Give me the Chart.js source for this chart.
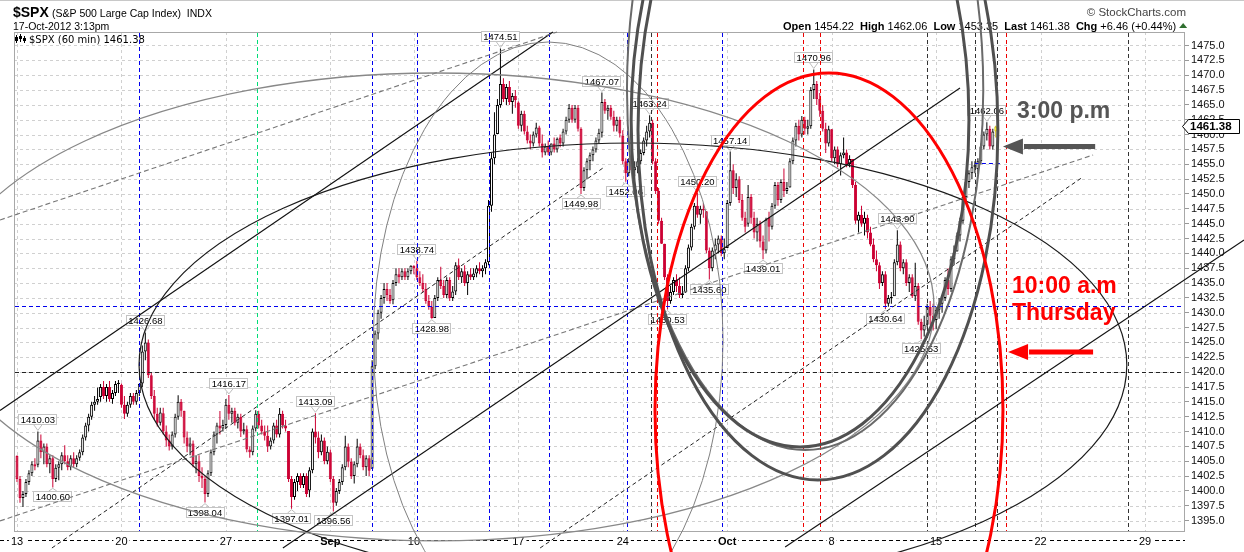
<!DOCTYPE html>
<html><head><meta charset="utf-8">
<script src="https://cdn.jsdelivr.net/npm/chart.js@4.4.0/dist/chart.umd.min.js"></script>
<style>html,body{margin:0;padding:0;background:#fff;}canvas{display:block;}</style>
</head><body>
<canvas id="c" width="1244" height="552"></canvas>
<script>
// ---------------- DATA ----------------
// 60-minute bars, 7 per trading day, Aug 13 2012 .. Oct 17 2012 (bar index 0..328)
const xTickIdx    = [0, 35, 70, 105, 133, 168, 203, 238, 273, 308, 343, 378];
const xTickLabels = ['13','20','27','Sep','10','17','24','Oct','8','15','22','29'];
const yTicks = [1395.0,1397.5,1400.0,1402.5,1405.0,1407.5,1410.0,1412.5,1415.0,1417.5,1420.0,1422.5,1425.0,1427.5,1430.0,1432.5,1435.0,1437.5,1440.0,1442.5,1445.0,1447.5,1450.0,1452.5,1455.0,1457.5,1460.0,1462.5,1465.0,1467.5,1470.0,1472.5,1475.0];

const opens = [
1405.9,1402,1398.8,1399.5,1401.5,1403,1404.5,
1404.4,1408.5,1406.5,1407.5,1404.5,1405.5,1402,
1403.9,1404.5,1406,1405,1404,1405.5,1404.5,
1405.6,1406.5,1409,1411,1412.5,1414.5,1415,
1415.8,1417.5,1416,1417.5,1415.5,1416.5,1418,
1417.9,1414.5,1413,1414.5,1416,1415,1416.5,
1418.1,1423.5,1425,1419.5,1416,1413,1411.5,
1413.1,1410,1408.5,1407.5,1409.5,1412.5,1415,
1413.5,1409,1407.5,1408,1404.5,1405,1402.5,
1402,1399.5,1403,1406.5,1409.5,1411,1410.5,
1411.1,1414.5,1413,1413.5,1411.5,1412.5,1410,
1410.4,1407,1406.5,1410.5,1413,1411,1410,
1409.3,1407.5,1408.5,1411,1409.5,1413,1411,
1410.1,1402,1399,1401.5,1402.5,1401,1402.5,
1400.07,1403.5,1410,1409,1406.5,1408.5,1405,
1406.5,1402,1398,1400,1401.5,1404,1407.5,
1404.9,1402.5,1404.5,1407.5,1406,1404,1405.5,
1403.74,1421,1426.5,1430,1432.5,1434,1433,
1432.1,1435,1436.5,1436,1437,1436,1437,
1437.9,1437.5,1436,1435,1434,1432,1431,
1429.1,1432.5,1435.5,1434.5,1433,1435.5,1432.5,
1433.6,1438,1436,1437,1435,1436.5,1436,
1436.6,1437.5,1437,1437.5,1438.5,1448,1456,
1460.1,1465,1468.5,1466,1468,1465.5,1466.5,
1465.4,1461.5,1463.5,1460.5,1459,1458.5,1460,
1461.2,1458.5,1457,1458,1457,1458.5,1457.5,
1459.5,1458.5,1460.5,1462.5,1464.5,1462.5,1464.5,
1461,1451,1454,1455.5,1456.5,1457.5,1459,
1460.3,1465.5,1464,1464.5,1463,1461.5,1462.5,
1459.8,1455.5,1453.5,1455.5,1454,1454.5,1455.5,
1456.9,1459,1460.5,1462,1455.5,1450.5,1445.5,
1441.6,1436,1432,1433.5,1435.5,1434.5,1433,
1433.4,1437.5,1441,1444.5,1448,1446.5,1447.5,
1447.1,1440.5,1437.5,1440.5,1441.5,1442.5,1440,
1440.9,1448.5,1454,1451,1452.5,1449,1446,
1445,1449.5,1446,1443.5,1445,1442,1440.5,
1446,1444.5,1448,1451.5,1449,1452,1450.5,
1451.1,1455.5,1459,1461.5,1460,1462.5,1461,
1461.4,1467.5,1468.5,1466,1464,1461,1458.5,
1460.9,1456,1457.5,1455,1456.5,1457,1455,
1455.9,1451.5,1445.5,1446.5,1445,1446,1443.5,
1441.5,1439,1438,1435,1436.5,1431.5,1432.5,
1432.8,1438.5,1441.5,1437.5,1438.5,1435,1436,
1432.8,1434.5,1428.5,1427,1428,1431,1429.5,
1428.8,1430.5,1431.5,1432.5,1435.5,1434,1439,
1440.3,1443,1445.5,1449.5,1452,1453.5,1454.5,
1454.2,1455.5,1458,1460,1461,1458,1460.5
];
const highs = [
1406,1402.5,1400,1402,1403.5,1405,1405.5,
1410.03,1409.5,1408,1408,1406,1406,1404.5,
1405,1406.5,1407.7,1406,1406,1406.5,1406,
1407,1409.5,1411.5,1413,1415,1416,1417.4,
1418,1418.5,1418,1418.5,1417,1418.5,1418.7,
1418.1,1416,1415,1416.5,1416.5,1417,1418.1,
1424.5,1426.68,1425.5,1420,1417,1414,1414,
1414,1411,1409.5,1410,1413,1416.1,1415.5,
1413.5,1410,1409,1408.5,1406,1406,1404,
1402.5,1403.5,1407,1410,1411.5,1413.46,1412,
1415.5,1416.17,1414,1414,1413,1413,1411.5,
1411,1407.5,1411,1413.6,1413.5,1412,1411,
1411,1409,1411.5,1412,1413.95,1413.5,1412,
1410.1,1402.5,1402,1403,1403,1403,1403,
1404,1410.5,1413.09,1410,1409.5,1409,1407.5,
1407,1402.5,1400.5,1402,1404.5,1409.31,1408,
1405.5,1405,1408.81,1408,1407,1406,1406,
1422,1427,1430.5,1433,1435,1435,1434,
1435.5,1437.5,1437.5,1437.5,1437.5,1437.5,1438,
1438,1438.74,1437,1436.5,1435,1433,1432,
1433,1436,1437.76,1435.5,1436,1436,1434.5,
1438.5,1439.15,1437.5,1438,1437,1437.5,1437.5,
1438,1438.5,1438,1439,1449,1457,1463.76,
1466,1474.51,1469.5,1468.5,1469,1467,1467.5,
1465.63,1464,1464,1461.5,1460,1460.5,1462,
1461.47,1460,1458.5,1459,1458.5,1459.5,1459.5,
1460,1461,1463,1465.15,1465,1465,1465,
1461.23,1454.5,1456,1457,1458,1459.5,1461,
1467.07,1466,1465,1465,1464,1463,1463,
1460.72,1456,1456,1456.5,1455.5,1456,1457.5,
1459.5,1461.5,1463.24,1462.5,1456,1451,1446,
1441.6,1436.5,1434.5,1436,1436.5,1436,1434.5,
1438,1441.5,1445,1448.5,1450.2,1448,1448.5,
1447.13,1441,1441,1442.5,1443,1443,1442.5,
1449,1457.14,1455,1453.5,1453,1450,1447,
1451.52,1450,1447,1446,1445.5,1443,1446,
1447,1448.5,1452,1452,1452.5,1454.3,1452,
1456,1459.5,1462,1462.5,1463.14,1463,1462.5,
1468,1470.96,1469,1467,1465,1462,1461.5,
1460.93,1458,1458,1457,1459.5,1457.5,1456.5,
1455.9,1452,1447,1448,1447,1446.5,1444.5,
1442.52,1440.5,1438.5,1437,1437,1433,1433.5,
1439,1443.9,1442,1439,1439,1436.5,1436.5,
1438.43,1435,1429,1429.5,1431.5,1432,1431.5,
1431,1432.5,1433,1436,1437.5,1439.5,1441.31,
1443.5,1446,1450,1452.5,1454,1455.51,1455.5,
1456,1458.5,1460.5,1462.06,1461.5,1461,1461.5
];
const lows = [
1401.5,1398,1397.3,1399,1401,1402.5,1403.5,
1404,1405.5,1404.5,1404,1403,1400.6,1401.5,
1401.8,1403.5,1404.5,1403.5,1403.5,1404,1404,
1405.1,1406,1408.5,1410,1412,1413.5,1414.5,
1415,1415.5,1415,1415,1414.7,1416,1416.5,
1414,1412.1,1412.5,1414,1414.5,1414.5,1416,
1417.5,1422,1419,1415.5,1412,1410.86,1411,
1409.5,1407.5,1406.8,1407,1409,1412,1412.5,
1408,1406.5,1406,1404,1403,1401.5,1400.5,
1398.04,1399,1402.5,1406,1408,1409.5,1410,
1410.5,1412,1411.5,1411,1410.5,1409.1,1409.5,
1406.5,1405.6,1406,1410,1410.5,1409.5,1408.5,
1406.57,1407,1408,1409,1409,1410.5,1410,
1401.5,1397.01,1398.5,1400,1400.5,1400.5,1399,
1398.96,1403,1408,1405.5,1406,1404.5,1404.5,
1401.5,1396.56,1397.5,1399.5,1401,1403.5,1404,
1402,1401.25,1404,1405.5,1403.5,1402.5,1402.5,
1403.74,1420.5,1425.5,1429,1431.5,1432,1431.5,
1431.45,1434.5,1435,1435.5,1435.5,1435.5,1436.5,
1436.5,1435.5,1434.5,1433.5,1431.5,1430.5,1428.98,
1429.1,1432,1434,1432.5,1432.5,1432,1432,
1433,1435.5,1435,1434.5,1433,1435.5,1435.5,
1435.97,1436.5,1436,1436.5,1438,1447,1455,
1460.07,1464.5,1465.5,1465,1465,1463.5,1464.5,
1461,1460.5,1460,1458.5,1457.55,1458,1459.5,
1458,1456.13,1456.5,1456.5,1456.5,1457,1457,
1457.88,1458,1460,1462,1462,1462,1460.5,
1449.98,1450.5,1452.5,1454,1455.5,1457,1458.5,
1459.51,1463.5,1462.5,1462.5,1460.5,1460.5,1459.5,
1455,1452.06,1453,1453.5,1453,1453.5,1455,
1456.5,1458,1459.5,1455,1450,1445,1441.59,
1435.5,1430.53,1431.5,1433,1433.5,1432.5,1432.5,
1433.36,1437,1440.5,1444,1446,1445,1446,
1440,1435.6,1437,1439,1440,1439.5,1439,
1440.9,1448,1450,1449.5,1448.5,1445.5,1443.5,
1444.5,1445,1442.5,1442,1441,1439.01,1440,
1441.99,1444,1447.5,1448,1448.5,1449.5,1450,
1451.08,1455,1458,1459,1459.5,1460,1460,
1461,1466,1465,1463,1460.5,1456.89,1458,
1455.5,1455,1454.5,1453.1,1456,1454.5,1454.5,
1451,1445,1443.5,1444.5,1443,1442.5,1441.18,
1438.5,1437,1434,1434.5,1430.64,1431,1431.5,
1432.82,1438,1437,1436.5,1434.5,1433.5,1432.5,
1432,1428,1425.53,1426,1427.5,1428,1427,
1427.24,1429,1430,1432,1433,1433.5,1438,
1440.31,1442,1445,1449,1451,1452.5,1453.5,
1453.35,1455,1457.5,1459,1457.5,1457.5,1459.5
];
const closes = [
1402,1398.8,1399.5,1401.5,1403,1404.5,1404.1,
1408.5,1406.5,1407.5,1404.5,1405.5,1402,1403.9,
1404.5,1406,1405,1404,1405.5,1404.5,1405.5,
1406.5,1409,1411,1412.5,1414.5,1415,1415.5,
1417.5,1416,1417.5,1415.5,1416.5,1418,1418.2,
1414.5,1413,1414.5,1416,1415,1416.5,1418,
1423.5,1425,1419.5,1416,1413,1411.5,1413.2,
1410,1408.5,1407.5,1409.5,1412.5,1415,1413.5,
1409,1407.5,1408,1404.5,1405,1402.5,1402.1,
1399.5,1403,1406.5,1409.5,1411,1410.5,1411.1,
1414.5,1413,1413.5,1411.5,1412.5,1410,1410.4,
1407,1406.5,1410.5,1413,1411,1410,1409.3,
1407.5,1408.5,1411,1409.5,1413,1411,1410.5,
1402,1399,1401.5,1402.5,1401,1402.5,1399.5,
1403.5,1410,1409,1406.5,1408.5,1405,1406.6,
1402,1398,1400,1401.5,1404,1407.5,1404.9,
1402.5,1404.5,1407.5,1406,1404,1405.5,1403.4,
1421,1426.5,1430,1432.5,1434,1433,1432,
1435,1436.5,1436,1437,1436,1437,1437.9,
1437.5,1436,1435,1434,1432,1431,1429.1,
1432.5,1435.5,1434.5,1433,1435.5,1432.5,1433.6,
1438,1436,1437,1435,1436.5,1436,1436.6,
1437.5,1437,1437.5,1438.5,1448,1456,1460,
1465,1468.5,1466,1468,1465.5,1466.5,1465.8,
1461.5,1463.5,1460.5,1459,1458.5,1460,1461.2,
1458.5,1457,1458,1457,1458.5,1457.5,1459.3,
1458.5,1460.5,1462.5,1464.5,1462.5,1464.5,1461,
1451,1454,1455.5,1456.5,1457.5,1459,1460.3,
1465.5,1464,1464.5,1463,1461.5,1462.5,1460.2,
1455.5,1453.5,1455.5,1454,1454.5,1455.5,1456.9,
1459,1460.5,1462,1455.5,1450.5,1445.5,1441.6,
1436,1432,1433.5,1435.5,1434.5,1433,1433.3,
1437.5,1441,1444.5,1448,1446.5,1447.5,1447.2,
1440.5,1437.5,1440.5,1441.5,1442.5,1440,1440.7,
1448.5,1454,1451,1452.5,1449,1446,1444.5,
1449.5,1446,1443.5,1445,1442,1440.5,1445.7,
1444.5,1448,1451.5,1449,1452,1450.5,1451,
1455.5,1459,1461.5,1460,1462.5,1461,1461.4,
1467.5,1468.5,1466,1464,1461,1458.5,1460.9,
1456,1457.5,1455,1456.5,1457,1455,1455.9,
1451.5,1445.5,1446.5,1445,1446,1443.5,1441.5,
1439,1438,1435,1436.5,1431.5,1432.5,1432.6,
1438.5,1441.5,1437.5,1438.5,1435,1436,1432.8,
1434.5,1428.5,1427,1428,1431,1429.5,1428.6,
1430.5,1431.5,1432.5,1435.5,1434,1439,1440.1,
1443,1445.5,1449.5,1452,1453.5,1454.5,1454.9,
1455.5,1458,1460,1461,1458,1460.5,1461.38
];
// swing-point price annotations: bar index and whether it marks the high (H) or low (L)
const labelIdx  = [7,12,43,71,63,100,92,106,134,139,162,196,189,204,212,218,228,239,232,250,267,295,291,303,325];
const labelSide = ['H','L','H','H','L','H','L','L','H','L','H','H','L','L','H','L','H','H','L','L','H','H','L','L','H'];

// ---------------- DRAWN ANNOTATIONS (data coordinates: bar index, price) ----------------
const vLines = [
  {i:40.9,c:'#0000ee'},{i:119,c:'#0000ee'},{i:134,c:'#0000ee'},{i:158.2,c:'#0000ee'},{i:178.3,c:'#0000ee'},{i:204.4,c:'#0000ee'},{i:236.3,c:'#0000ee'},
  {i:80.4,c:'#00dd77'},
  {i:212.5,c:'#333'},{i:305,c:'#333'},{i:321,c:'#333'},{i:328.4,c:'#333'},{i:372.3,c:'#333'},
  {i:214.5,c:'#ee0000'},{i:263.4,c:'#ee0000'},{i:269.1,c:'#ee0000'},{i:331.4,c:'#ee0000'}
];
const hLines = [
  {p:1431.15,c:'#0000ee',i0:null,i1:null},
  {p:1420.0,c:'#222',i0:null,i1:null},
  {p:1455.2,c:'#0000ee',i0:321,i1:330}
];
const ellipses = [
  {ci:206.4,cp:1421.21,ri:165.5,rp:37.37,c:'#1a1a1a',w:1.2},
  {ci:140.4,cp:1430.98,ri:166.9,rp:39.39,c:'#888',w:1.3},
  {ci:178.0,cp:1425.42,ri:58.6,rp:50.17,c:'#808080',w:1},
  {ci:264.1,cp:1467.51,ri:59.7,rp:60.61,c:'#6a6a6a',w:2},
  {ci:262.4,cp:1462.46,ri:56.6,rp:55.05,c:'#505050',w:3},
  {ci:268.4,cp:1460.77,ri:60.3,rp:58.92,c:'#505050',w:3},
  {ci:272.1,cp:1413.64,ri:58.3,rp:56.73,c:'#ff0000',w:3}
];
const trendLines = [
  {a:[-5.7,1413.55],b:[179.6,1477.27],c:'#111',w:1.1,d:[]},
  {a:[-5.7,1445.62],b:[181.0,1477.27],c:'#777',w:1.1,d:[5,3]},
  {a:[11.7,1390.40],b:[197.1,1454.63],c:'#222',w:1,d:[4,3]},
  {a:[-5.7,1394.95],b:[360.6,1456.57],c:'#777',w:1.1,d:[5,3]},
  {a:[175.3,1390.40],b:[357.2,1452.86],c:'#222',w:1,d:[4,3]},
  {a:[89.1,1390.40],b:[316.0,1467.85],c:'#111',w:1.1,d:[]},
  {a:[257.4,1390.57],b:[411.2,1442.26],c:'#111',w:1.1,d:[]}
];
const notes = [
  {t:'3:00 p.m',i:335.1,p:1462.8,c:'#555'},
  {t:'10:00 a.m',i:333.4,p:1433.3,c:'#ff0000'},
  {t:'Thursday',i:333.4,p:1428.8,c:'#ff0000'}
];
const arrows = [
  {from:[361.3,1458.0],to:[330.4,1458.0],c:'#555'},
  {from:[360.6,1423.4],to:[332.1,1423.4],c:'#ff0000'}
];

const X_MIN = -1.005, X_MAX = 391.4, Y_MIN = 1393.09, Y_MAX = 1477.27;
const RED = '#cc0033';
const F = '"Liberation Sans", Arial, sans-serif';

// ---------------- BUILD DATASETS ----------------
const N = closes.length;
const bodyData = [], wickData = [], bodyFill = [], bodyStroke = [], wickCol = [];
for (let i = 0; i < N; i++) {
  const o = opens[i], c = closes[i], up = c >= o, last = i === N - 1;
  bodyData.push({x: i, y: [Math.min(o, c), Math.max(o, c)]});
  wickData.push({x: i, y: [lows[i], highs[i]]});
  bodyFill.push(last ? '#ffff33' : (up ? '#ffffff' : RED));
  bodyStroke.push(last ? '#c8b400' : (up ? '#000000' : RED));
  wickCol.push(last ? '#c8b400' : (up ? '#000000' : RED));
}

function px(xs, ys, pt) { return [xs.getPixelForValue(pt[0]), ys.getPixelForValue(pt[1])]; }

const overlay = {
  id: 'overlay',
  beforeDraw(chart) {
    const c = chart.ctx, W = chart.width, a = chart.chartArea;
    c.save();
    c.fillStyle = '#fff'; c.fillRect(0, 0, W, chart.height);
    c.strokeStyle = '#c8c8c8'; c.lineWidth = 1;
    c.beginPath(); c.moveTo(0, 0.5); c.lineTo(W, 0.5); c.stroke();
    c.textBaseline = 'alphabetic'; c.textAlign = 'left'; c.fillStyle = '#000';
    c.font = 'bold 14px ' + F; c.fillText('$SPX', 13, 17);
    c.font = '10.5px ' + F; c.fillText('(S&P 500 Large Cap Index)  INDX', 52, 17);
    c.fillText('17-Oct-2012 3:13pm', 13, 30);
    c.fillStyle = '#444'; c.font = '11.5px ' + F; c.textAlign = 'right';
    c.fillText('\u00A9 StockCharts.com', 1186, 16);
    // quote line
    const parts = [['Open',1],[' 1454.22  ',0],['High',1],[' 1462.06  ',0],['Low',1],[' 1453.35  ',0],['Last',1],[' 1461.38  ',0],['Chg',1],[' +6.46 (+0.44%)',0]];
    let x = 783; c.textAlign = 'left'; c.fillStyle = '#000';
    parts.forEach(p => { c.font = (p[1] ? 'bold ' : '') + '11px ' + F; c.fillText(p[0], x, 30); x += c.measureText(p[0]).width; });
    c.fillStyle = '#2f6f2f'; c.beginPath(); c.moveTo(x + 3, 28); c.lineTo(x + 11, 28); c.lineTo(x + 7, 23); c.closePath(); c.fill();
    // x axis dashed guide
    c.strokeStyle = '#000'; c.setLineDash([4, 3]);
    c.beginPath(); c.moveTo(0, 540.5); c.lineTo(a.right, 540.5); c.stroke();
    c.setLineDash([]);
    c.restore();
  },
  beforeDatasetsDraw(chart) {
    const c = chart.ctx, a = chart.chartArea, xs = chart.scales.x, ys = chart.scales.y;
    c.save();
    c.strokeStyle = '#d0d0d0'; c.lineWidth = 1; c.setLineDash([3, 3]);
    yTicks.forEach(v => { const y = Math.round(ys.getPixelForValue(v)) + 0.5; c.beginPath(); c.moveTo(a.left, y); c.lineTo(a.right, y); c.stroke(); });
    xTickIdx.forEach(v => { const x = Math.round(xs.getPixelForValue(v)) + 0.5; if (x <= a.left + 1 || x >= a.right) return; c.beginPath(); c.moveTo(x, a.top); c.lineTo(x, a.bottom); c.stroke(); });
    c.setLineDash([]);
    // legend
    c.strokeStyle = '#000'; c.lineWidth = 1;
    [[16,35,43,37,41],[20,34,42,36,39],[24,36,43,38,41]].forEach(s => { c.beginPath(); c.moveTo(s[0]+0.5, s[1]); c.lineTo(s[0]+0.5, s[2]); c.stroke(); c.fillStyle = '#000'; c.fillRect(s[0]-1, s[3], 3, s[4]-s[3]); });
    c.fillStyle = '#000'; c.font = '10px "DejaVu Sans", sans-serif'; c.textAlign = 'left'; c.textBaseline = 'alphabetic';
    c.fillText('$SPX (60 min) ' + closes[N - 1].toFixed(2), 29, 43);
    c.restore();
  },
  afterDatasetsDraw(chart) {
    const c = chart.ctx, a = chart.chartArea, xs = chart.scales.x, ys = chart.scales.y;
    c.save();
    // frame
    c.strokeStyle = '#a8a8a8'; c.lineWidth = 1;
    c.strokeRect(Math.round(a.left) + 0.5, Math.round(a.top) + 0.5, Math.round(a.right - a.left) - 1, Math.round(a.bottom - a.top) - 1);
    // price labels
    c.font = '9.5px ' + F;
    labelIdx.forEach((i, k) => {
      const hi = labelSide[k] === 'H';
      const v = hi ? highs[i] : lows[i];
      const txt = v.toFixed(2);
      const x = xs.getPixelForValue(i), y = ys.getPixelForValue(v);
      const bw = Math.round(c.measureText(txt).width + 5), bh = 11;
      const by = hi ? Math.round(y - 11.5 - bh / 2) : Math.round(y + 9.5 - bh / 2);
      const bx = Math.round(x - bw / 2);
      c.strokeStyle = '#bdbdbd'; c.lineWidth = 1; c.beginPath();
      if (hi) { c.moveTo(x - 4, by + bh); c.lineTo(x, y - 1); c.lineTo(x + 4, by + bh); }
      else { c.moveTo(x - 4, by); c.lineTo(x, y + 1); c.lineTo(x + 4, by); }
      c.stroke();
      c.fillStyle = '#fff'; c.fillRect(bx, by, bw, bh);
      c.strokeStyle = '#c4c4c4'; c.strokeRect(bx + 0.5, by + 0.5, bw - 1, bh - 1);
      c.fillStyle = '#000'; c.textAlign = 'center'; c.textBaseline = 'middle';
      c.fillText(txt, x, by + bh / 2 + 0.5);
    });
    // vertical & horizontal marker lines
    c.lineWidth = 1; c.setLineDash([4, 3]);
    vLines.forEach(l => { const x = Math.round(xs.getPixelForValue(l.i)) + 0.5; c.strokeStyle = l.c; c.beginPath(); c.moveTo(x, a.top + 1); c.lineTo(x, a.bottom - 1); c.stroke(); });
    hLines.forEach(l => {
      const y = Math.round(ys.getPixelForValue(l.p)) + 0.5;
      const x0 = l.i0 === null ? a.left + 1 : xs.getPixelForValue(l.i0);
      const x1 = l.i1 === null ? a.right - 1 : xs.getPixelForValue(l.i1);
      c.strokeStyle = l.c; c.beginPath(); c.moveTo(x0, y); c.lineTo(x1, y); c.stroke();
    });
    c.setLineDash([]);
    // trend lines
    trendLines.forEach(l => {
      const p1 = px(xs, ys, l.a), p2 = px(xs, ys, l.b);
      c.strokeStyle = l.c; c.lineWidth = l.w; c.setLineDash(l.d);
      c.beginPath(); c.moveTo(p1[0], p1[1]); c.lineTo(p2[0], p2[1]); c.stroke();
    });
    c.setLineDash([]);
    // ellipses
    ellipses.forEach(e => {
      const cx = xs.getPixelForValue(e.ci), cy = ys.getPixelForValue(e.cp);
      const rx = Math.abs(xs.getPixelForValue(e.ci + e.ri) - cx);
      const ry = Math.abs(ys.getPixelForValue(e.cp + e.rp) - cy);
      c.strokeStyle = e.c; c.lineWidth = e.w;
      c.beginPath(); c.ellipse(cx, cy, rx, ry, 0, 0, Math.PI * 2); c.stroke();
    });
    // arrows
    arrows.forEach(ar => {
      const t = px(xs, ys, ar.from), h = px(xs, ys, ar.to);
      const ang = Math.atan2(h[1] - t[1], h[0] - t[0]);
      const hl = 20, hw = 8;
      const bx = h[0] - hl * Math.cos(ang), by = h[1] - hl * Math.sin(ang);
      c.strokeStyle = ar.c; c.lineWidth = 5; c.lineCap = 'butt';
      c.beginPath(); c.moveTo(t[0], t[1]); c.lineTo(bx + 1, by); c.stroke();
      c.fillStyle = ar.c; c.beginPath(); c.moveTo(h[0], h[1]);
      c.lineTo(bx - hw * Math.sin(ang), by + hw * Math.cos(ang));
      c.lineTo(bx + hw * Math.sin(ang), by - hw * Math.cos(ang));
      c.closePath(); c.fill();
    });
    // notes
    c.font = 'bold 23px ' + F; c.textAlign = 'left'; c.textBaseline = 'alphabetic';
    notes.forEach(n => { c.fillStyle = n.c; c.fillText(n.t, xs.getPixelForValue(n.i), ys.getPixelForValue(n.p)); });
    // last price box on the axis
    const lv = closes[N - 1], ly = Math.round(ys.getPixelForValue(lv)) + 0.5, r = a.right;
    c.fillStyle = '#fff'; c.strokeStyle = '#000'; c.lineWidth = 1;
    c.beginPath(); c.moveTo(r - 2.5, ly); c.lineTo(r + 3.5, ly - 7); c.lineTo(1239.5, ly - 7); c.lineTo(1239.5, ly + 7); c.lineTo(r + 3.5, ly + 7); c.closePath();
    c.fill(); c.stroke();
    c.fillStyle = '#000'; c.font = 'bold 11.5px ' + F; c.textBaseline = 'middle'; c.textAlign = 'left';
    c.fillText(lv.toFixed(2), r + 5, ly + 0.5);
    c.restore();
  }
};

new Chart(document.getElementById('c'), {
  type: 'bar',
  data: { datasets: [
    { label: '$SPX body', data: bodyData, backgroundColor: bodyFill, borderColor: bodyStroke, borderWidth: 1, borderSkipped: false,
      barThickness: 3, minBarLength: 1, grouped: false, order: 0, inflateAmount: 0 },
    { label: '$SPX range', data: wickData, backgroundColor: wickCol, borderWidth: 0, barThickness: 1, grouped: false, order: 1, inflateAmount: 0 }
  ]},
  options: {
    responsive: false, animation: false, devicePixelRatio: 1,
    layout: { padding: { left: 14, top: 32, right: 0, bottom: 0 } },
    plugins: { legend: { display: false }, tooltip: { enabled: false } },
    scales: {
      x: {
        type: 'linear', min: X_MIN, max: X_MAX, offset: false,
        afterFit: s => { s.height = 20; },
        afterBuildTicks: s => { s.ticks = xTickIdx.map(v => ({ value: v })); },
        grid: { display: false, drawTicks: false, offset: false },
        border: { display: false },
        ticks: {
          autoSkip: false, maxRotation: 0, minRotation: 0, padding: 3, color: '#000',
          font: ctx => ({ family: 'Liberation Sans', size: 11, weight: (ctx.index === 3 || ctx.index === 7) ? 'bold' : 'normal' }),
          callback: (v, i) => xTickLabels[i],
          showLabelBackdrop: true, backdropColor: '#fff', backdropPadding: { x: 2, y: 0, top: 0, bottom: 0, left: 2, right: 2 }
        }
      },
      y: {
        type: 'linear', position: 'right', min: Y_MIN, max: Y_MAX,
        afterFit: s => { s.width = 59; },
        afterBuildTicks: s => { s.ticks = yTicks.map(v => ({ value: v })); },
        grid: { drawOnChartArea: false, drawTicks: true, tickLength: 4, color: '#999' },
        border: { display: false },
        ticks: { autoSkip: false, padding: 2, color: '#111', font: { family: 'Liberation Sans', size: 11 }, callback: v => v.toFixed(1) }
      }
    }
  },
  plugins: [overlay]
});
</script>
</body></html>
